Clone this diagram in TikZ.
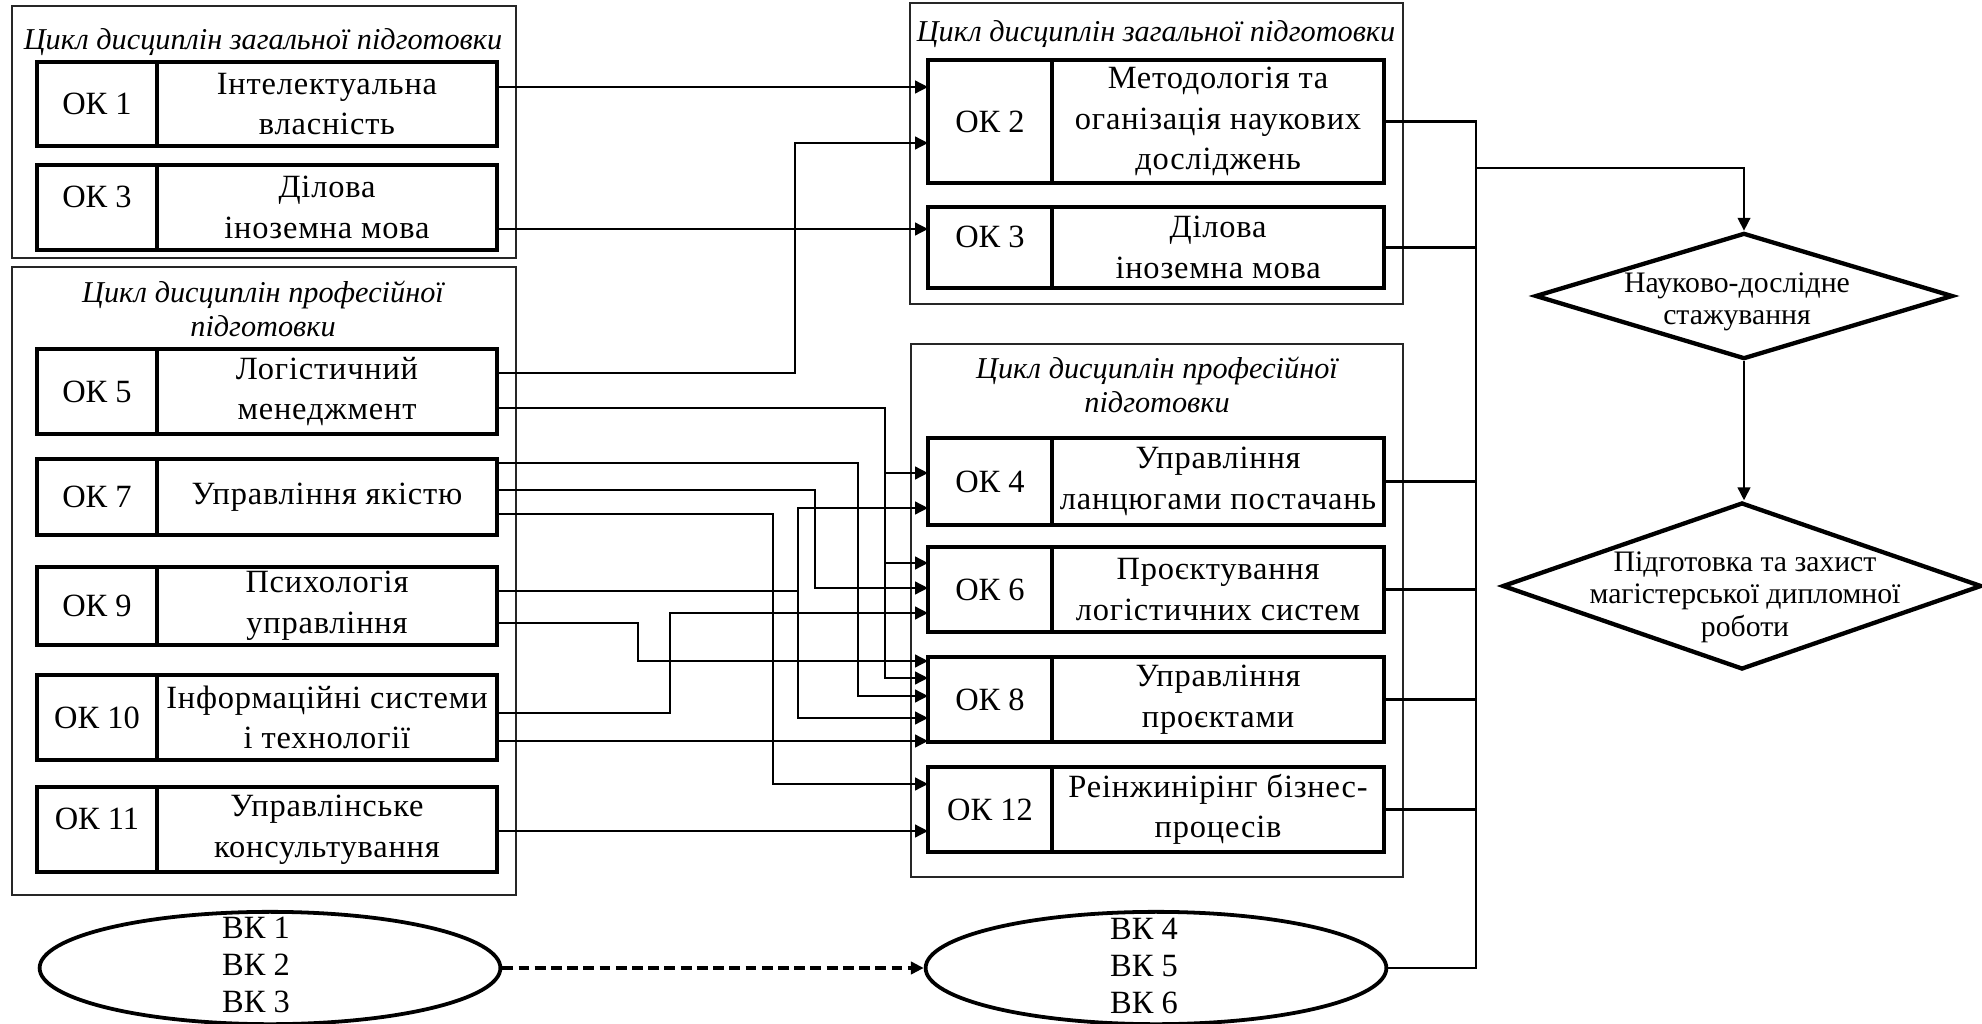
\documentclass[tikz,border=0pt]{standalone}
\usepackage{fontspec}
\setmainfont{Liberation Serif}
\newfontfamily\spacedfont{Liberation Serif}[LetterSpace=2.5]
\usetikzlibrary{positioning,shapes.geometric,arrows.meta}

\newcommand\liftlabel[1]{\raisebox{0pt}[0pt][0pt]{#1}}

\tikzset{
  cellbox/.style={draw, line width=1.5pt, outer sep=0pt, inner sep=0pt, align=center,
    font=\fontsize{12}{15}\selectfont},
  okbox/.style={cellbox, minimum width=1.56cm, minimum height=#1},
  okbox/.default=1.1cm,
  namebox/.style={cellbox, minimum width=4.42cm, minimum height=#1,
    font=\spacedfont\fontsize{12}{15}\selectfont},
  namebox/.default=1.1cm,
  okboxr/.style={cellbox, minimum width=1.61cm, minimum height=#1},
  okboxr/.default=1.1cm,
  nameboxr/.style={cellbox, minimum width=4.32cm, minimum height=#1,
    font=\spacedfont\fontsize{12}{15}\selectfont},
  nameboxr/.default=1.1cm,
  group/.style={draw=black!85, line width=0.5pt},
  header/.style={inner sep=0pt, align=center, font=\itshape\fontsize{11.2}{12.4}\selectfont},
  stage/.style={diamond, draw, line width=1.6pt, inner sep=0pt},
  stagetext/.style={inner sep=0pt, align=center, font=\fontsize{11}{12}\selectfont},
  vkbox/.style={ellipse, draw, line width=1.4pt, inner sep=0pt, minimum width=5.99cm, minimum height=1.46cm},
  vktext/.style={inner sep=0pt, align=center, font=\fontsize{12}{13.7}\selectfont},
  link/.style={line width=1pt},
  arrowlink/.style={link, -{Triangle[length=4.8pt,width=4.6pt]}},
}

\begin{document}
\begin{tikzpicture}[x=0.013cm, y=-0.013cm]

\def \xleftok  {97}
\def \xrightok {990}
\def \xbus     {1476}

\useasboundingbox (0,0) rectangle (1982,1024);

% cycle frames
\draw[group] (12,6) rectangle (516,258);
\draw[group] (12,267) rectangle (516,895);
\draw[group] (910,3) rectangle (1403,304);
\draw[group] (911,344) rectangle (1403,877);

\node[header] (g1h) at (263,42)   {Цикл дисциплін загальної підготовки};
\node[header] (g2h) at (263,309)  {Цикл дисциплін професійної\\підготовки};
\node[header] (g3h) at (1156,34)  {Цикл дисциплін загальної підготовки};
\node[header] (g4h) at (1157,385) {Цикл дисциплін професійної\\підготовки};

% left column
\node[okbox] (ok1) at (\xleftok,104) {ОК 1};
\node[namebox, right=0pt of ok1] (ok1t) {Інтелектуальна\\власність};
\node[okbox] (ok3l) at (\xleftok,207.5) {\liftlabel{ОК 3}};
\node[namebox, right=0pt of ok3l] (ok3lt) {Ділова\\іноземна мова};
\node[okbox] (ok5) at (\xleftok,391.5) {ОК 5};
\node[namebox, right=0pt of ok5] (ok5t) {Логістичний\\менеджмент};
\node[okbox=0.99cm] (ok7) at (\xleftok,497) {ОК 7};
\node[namebox=0.99cm, right=0pt of ok7] (ok7t) {Управління якістю};
\node[okbox=1.01cm] (ok9) at (\xleftok,606) {ОК 9};
\node[namebox=1.01cm, right=0pt of ok9] (ok9t) {Психологія\\управління};
\node[okbox] (ok10) at (\xleftok,717.5) {ОК 10};
\node[namebox, right=0pt of ok10] (ok10t) {Інформаційні системи\\і технології};
\node[okbox] (ok11) at (\xleftok,829.5) {\liftlabel{ОК 11}};
\node[namebox, right=0pt of ok11] (ok11t) {Управлінське\\консультування};

% right column
\node[okboxr=1.6cm] (ok2) at (\xrightok,121.5) {ОК 2};
\node[nameboxr=1.6cm, right=0pt of ok2] (ok2t) {Методологія та\\оганізація наукових\\досліджень};
\node[okboxr=1.05cm] (ok3r) at (\xrightok,247.5) {\liftlabel{ОК 3}};
\node[nameboxr=1.05cm, right=0pt of ok3r] (ok3rt) {Ділова\\іноземна мова};
\node[okboxr=1.13cm] (ok4) at (\xrightok,481.5) {ОК 4};
\node[nameboxr=1.13cm, right=0pt of ok4] (ok4t) {Управління\\ланцюгами постачань};
\node[okboxr] (ok6) at (\xrightok,589.5) {ОК 6};
\node[nameboxr, right=0pt of ok6] (ok6t) {Проєктування\\логістичних систем};
\node[okboxr] (ok8) at (\xrightok,699.5) {ОК 8};
\node[nameboxr, right=0pt of ok8] (ok8t) {Управління\\проєктами};
\node[okboxr] (ok12) at (\xrightok,809.5) {ОК 12};
\node[nameboxr, right=0pt of ok12] (ok12t) {Реінжинірінг бізнес-\\процесів};

% elective blocks
\node[vkbox] (vk1) at (270,968) {};
\node[vktext] (vk1l) at (256,965) {ВК 1\\ВК 2\\ВК 3};
\node[vkbox] (vk2) at (1156,968) {};
\node[vktext] (vk2l) at (1144,966) {ВК 4\\ВК 5\\ВК 6};

% final stages
\node[stage, minimum width=5.43cm, minimum height=1.64cm] (d1) at (1744,296) {};
\node[stagetext] (d1l) at (1737,302) {Науково-дослідне\\стажування};
\node[stage, minimum width=6.23cm, minimum height=2.17cm] (d2) at (1742,586) {};
\node[stagetext] (d2l) at (1745,597) {Підготовка та захист\\магістерської дипломної\\роботи};

% general cycle links
\draw[arrowlink] (ok1t.east |- 0,87) -- (ok2.west |- 0,87);
\draw[arrowlink] (ok3lt.east |- 0,229) -- (ok3r.west |- 0,229);

% professional cycle links
\draw[arrowlink] (ok5t.east |- 0,373) -| (795,143) -- (ok2.west |- 0,143);
\draw[arrowlink] (ok5t.east |- 0,408) -| (885,678) -- (ok8.west |- 0,678);
\draw[arrowlink] (885,473) -- (ok4.west |- 0,473);
\draw[arrowlink] (885,563) -- (ok6.west |- 0,563);
\draw[arrowlink] (ok7t.east |- 0,463) -| (858,696) -- (ok8.west |- 0,696);
\draw[arrowlink] (ok7t.east |- 0,490) -| (815,588) -- (ok6.west |- 0,588);
\draw[arrowlink] (ok7t.east |- 0,514) -| (773,784) -- (ok12.west |- 0,784);
\draw[arrowlink] (ok9t.east |- 0,591) -| (798,718) -- (ok8.west |- 0,718);
\draw[arrowlink] (798,591) |- (ok4.west |- 0,508);
\draw[arrowlink] (ok9t.east |- 0,623) -| (638,661) -- (ok8.west |- 0,661);
\draw[arrowlink] (ok10t.east |- 0,713) -| (670,613) -- (ok6.west |- 0,613);
\draw[arrowlink] (ok10t.east |- 0,741) -- (ok8.west |- 0,741);
\draw[arrowlink] (ok11t.east |- 0,831) -- (ok12.west |- 0,831);

% electives
\draw[arrowlink, line width=1.3pt, dash pattern=on 4pt off 2pt] (vk1.east) -- (vk2.west);

% collecting bus
\coordinate (bus) at (\xbus,168);
\draw[link] (ok2t.east) -| (\xbus,968) -- (vk2.east);
\foreach \n in {ok3rt, ok4t, ok6t, ok8t, ok12t}
  \draw[link] (\n.east) -- (\n.east -| bus);
\draw[arrowlink] (bus) -| (d1.north);
\draw[arrowlink] (d1.south) -- (d1.south |- d2.north);

\end{tikzpicture}
\end{document}
